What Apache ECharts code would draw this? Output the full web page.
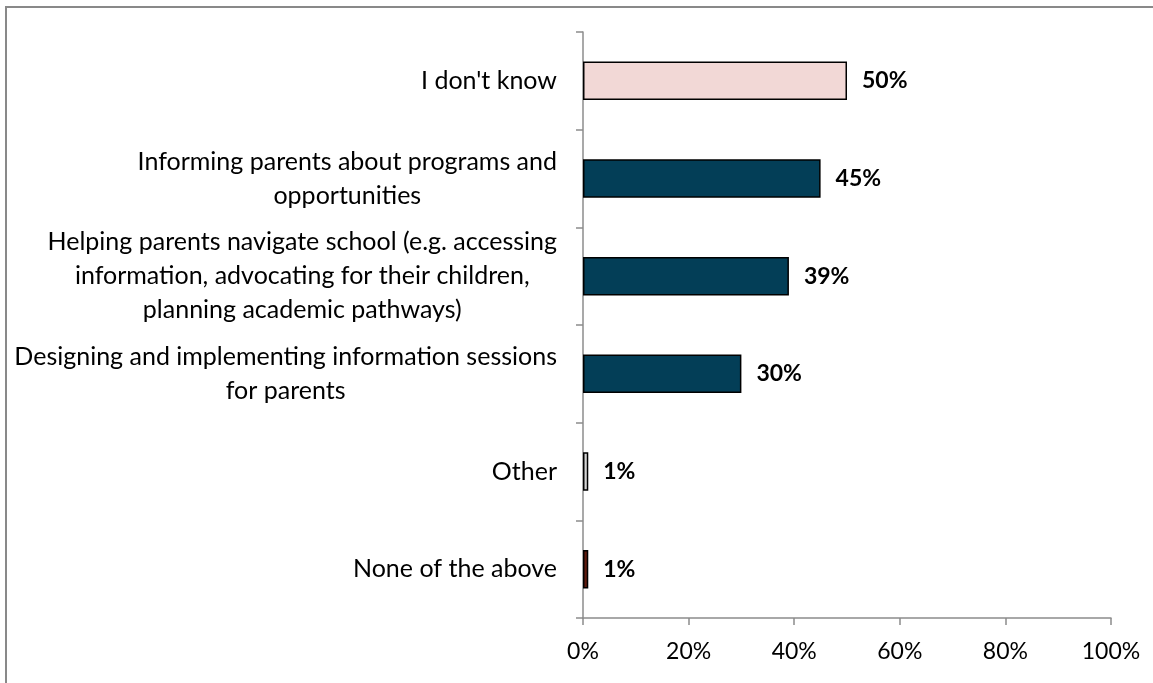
<!DOCTYPE html>
<html>
<head>
<meta charset="utf-8">
<script src="https://cdn.jsdelivr.net/npm/echarts@6/dist/echarts.min.js"></script>
<style>
  html, body { margin: 0; padding: 0; background: #fff; }
  #frame { position: absolute; left: 5px; top: 6px; width: 1160px; height: 700px;
           border-left: 2px solid #898989; border-top: 2px solid #898989; }
  #chart { position: absolute; left: 0; top: 0; width: 1153px; height: 683px; }
</style>
</head>
<body>
<div id="frame"></div>
<div id="chart"></div>
<script>
// Survey responses: roles, share of respondents (%)
const categories = [
  "I don't know",
  "Informing parents about programs and\nopportunities",
  "Helping parents navigate school (e.g. accessing\ninformation, advocating for their children,\nplanning academic pathways)",
  "Designing and implementing information sessions\nfor parents",
  "Other",
  "None of the above"
];
const values = [50, 45, 39, 30, 1, 1];
const barColors = ["#F2D8D6", "#033E57", "#033E57", "#033E57", "#D4D4D4", "#5E1B0E"];
const xTicks = [0, 20, 40, 60, 80, 100];

const chart = echarts.init(document.getElementById('chart'));
const font = "Lato, 'Noto Sans', sans-serif";

chart.setOption({
  animation: false,
  grid: { left: 583, right: 42, top: 32, bottom: 65, containLabel: false },
  xAxis: {
    type: 'value',
    min: xTicks[0],
    max: xTicks[xTicks.length - 1],
    interval: 20,
    axisLine: { show: true, lineStyle: { color: '#8C8C8C', width: 1.5 } },
    axisTick: { show: true, length: 7, lineStyle: { color: '#8C8C8C', width: 1.5 } },
    splitLine: { show: false },
    axisLabel: { formatter: v => v + '%', color: '#000', fontSize: 23, fontFamily: font, margin: 22 }
  },
  yAxis: {
    type: 'category',
    inverse: true,
    data: categories,
    axisLine: { show: true, lineStyle: { color: '#8C8C8C', width: 1.5 } },
    axisTick: { show: true, length: 7, lineStyle: { color: '#8C8C8C', width: 1.5 } },
    axisLabel: {
      margin: 26, align: 'right',
      // each line centred within the label block, block right-aligned to the axis
      formatter: s => s.split('\n').map(line => '{c|' + line + '}').join('\n'),
      rich: { c: { align: 'center', color: '#000', fontSize: 25, fontFamily: font, lineHeight: 34 } }
    }
  },
  series: [{
    type: 'bar',
    data: values.map((v, i) => ({ value: v, itemStyle: { color: barColors[i] } })),
    barWidth: '39.5%',
    itemStyle: { borderColor: '#000', borderWidth: 1.5 },
    label: {
      show: true, position: 'right', distance: 15,
      formatter: p => p.value + '%',
      color: '#000', fontSize: 23, fontWeight: 'bold', fontFamily: font
    }
  }]
});
</script>
</body>
</html>
